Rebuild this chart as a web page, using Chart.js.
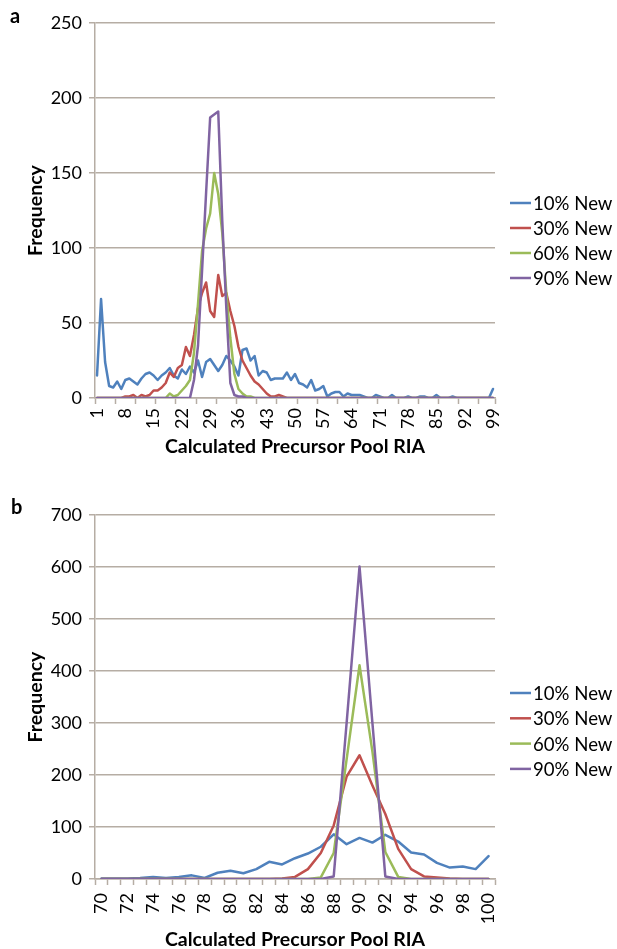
<!DOCTYPE html>
<html>
<head>
<meta charset="utf-8">
<script src="https://cdn.jsdelivr.net/npm/chart.js@4.4.1/dist/chart.umd.min.js"></script>
<style>
html,body{margin:0;padding:0;background:#fff;}
body{width:617px;height:949px;position:relative;overflow:hidden;font-family:Lato,"Open Sans",sans-serif;}
.panel{position:absolute;left:0;width:617px;}
#wrapA{top:0;height:470px;}
#wrapB{top:485px;height:464px;}
canvas{display:block;}
.tag{position:absolute;font-weight:bold;font-size:20px;line-height:20px;color:#000;font-family:Lato,sans-serif;}
</style>
</head>
<body>
<div id="wrapA" class="panel"><canvas id="chartA" width="617" height="470"></canvas></div>
<div id="wrapB" class="panel"><canvas id="chartB" width="617" height="464"></canvas></div>
<div class="tag" style="left:10px;top:5px">a</div>
<div class="tag" style="left:11px;top:496px">b</div>
<script>
// ---------- Panel a data ----------
const categoriesA = ['1','2','3','4','5','6','7','8','9','10','11','12','13','14','15','16','17','18','19','20',
'21','22','23','24','25','26','27','28','29','30','31','32','33','34','35','36','37','38','39','40',
'41','42','43','44','45','46','47','48','49','50','51','52','53','54','55','56','57','58','59','60',
'61','62','63','64','65','66','67','68','69','70','71','72','73','74','75','76','77','78','79','80',
'81','82','83','84','85','86','87','88','89','90','91','92','93','94','95','96','97','98','99'];
const tickLabelsA = ['1','8','15','22','29','36','43','50','57','64','71','78','85','92','99'];
const yTicksA = [0,50,100,150,200,250];

const new10A = [15,66,24,8,7,11,6,12,13,11, 9,13,16,17,15,12,15,17,20,15,
13,19,16,21,17,25,14,24,26,22, 18,22,28,25,21,15,32,33,25,28,
15,18,17,12,13,13,13,17,12,16, 10,9,7,12,5,6,8,1,3,4,
4,1,3,2,2,2,1,0,0,2, 1,0,0,2,0,0,0,1,0,0,
1,1,0,0,2,0,0,0,1,0, 0,0,0,0,0,0,0,0,6];
const new30A = [0,0,0,0,0,0,0,1,1,2, 0,2,1,2,5,5,7,10,17,14,
20,22,34,28,42,60,70,77,58,54, 82,68,70,58,48,34,25,20,15,11,
9,6,3,1,1,2,1,0,0,0, 0,0,0,0,0,0,0,0,0,0,
0,0,0,0,0,0,0,0,0,0, 0,0,0,0,0,0,0,0,0,0,
0,0,0,0,0,0,0,0,0,0, 0,0,0,0,0,0,0,0,0];
const new60A = [0,0,0,0,0,0,0,0,0,0, 0,0,0,0,0,0,0,0,3,1,
2,5,8,12,30,63,98,113,123,150, 136,110,70,40,16,6,3,1,1,0,
0,0,0,0,0,0,0,0,0,0, 0,0,0,0,0,0,0,0,0,0,
0,0,0,0,0,0,0,0,0,0, 0,0,0,0,0,0,0,0,0,0,
0,0,0,0,0,0,0,0,0,0, 0,0,0,0,0,0,0,0,0];
const new90A = [0,0,0,0,0,0,0,0,0,0, 0,0,0,0,0,0,0,0,0,0,
0,0,0,0,12,35,85,137,187,189, 191,118,60,10,2,1,1,0,0,0,
0,0,0,0,0,0,0,0,0,0, 0,0,0,0,0,0,0,0,0,0,
0,0,0,0,0,0,0,0,0,0, 0,0,0,0,0,0,0,0,0,0,
0,0,0,0,0,0,0,0,0,0, 0,0,0,0,0,0,0,0,0];

// ---------- Panel b data ----------
const categoriesB = ['70','71','72','73','74','75','76','77','78','79','80','81','82','83','84','85',
'86','87','88','89','90','91','92','93','94','95','96','97','98','99','100'];
const tickLabelsB = ['70','72','74','76','78','80','82','84','86','88','90','92','94','96','98','100'];
const yTicksB = [0,100,200,300,400,500,600,700];

const new10B = [1,1,1,2,4,2,4,7,2,12,16,11,19,33,28,40,49,62,86,67,79,70,85,72,51,47,31,22,24,19,44];
const new30B = [0,0,0,0,0,0,0,0,0,0,0,0,0,0,1,4,19,50,103,197,238,180,125,58,19,5,3,1,0,0,0];
const new60B = [0,0,0,0,0,0,0,0,0,0,0,0,0,0,0,0,0,3,50,230,411,245,52,4,0,0,0,0,0,0,0];
const new90B = [0,0,0,0,0,0,0,0,0,0,0,0,0,0,0,0,0,0,5,300,601,300,5,0,0,0,0,0,0,0,0];

const seriesNames = ['10% New','30% New','60% New','90% New'];
const seriesColors = ['#4F81BD','#C0504D','#9BBB59','#8064A2'];

const xTitle = 'Calculated Precursor Pool RIA';
const yTitle = 'Frequency';

// ---------- styling ----------
const GRID = '#B6ADA4';
const FONT = 'Lato';
Chart.defaults.font.family = FONT;
Chart.defaults.color = '#000';

const sideLegend = {
  id: 'sideLegend',
  afterDraw(chart, args, opts) {
    const ctx = chart.ctx;
    ctx.save();
    ctx.font = '18.6px ' + FONT;
    ctx.textBaseline = 'middle';
    ctx.textAlign = 'left';
    chart.data.datasets.forEach((ds, i) => {
      const y = opts.y0 + i * opts.dy;
      ctx.strokeStyle = ds.borderColor;
      ctx.lineWidth = 2.5;
      ctx.beginPath();
      ctx.moveTo(opts.x0, y);
      ctx.lineTo(opts.x0 + opts.len, y);
      ctx.stroke();
      ctx.fillStyle = '#000';
      ctx.fillText(ds.label, opts.x0 + opts.len + 2, y + 1);
    });
    ctx.restore();
  }
};

function makeDatasets(vals) {
  return vals.map((v, i) => ({
    label: seriesNames[i],
    data: v,
    borderColor: seriesColors[i],
    backgroundColor: seriesColors[i],
    borderWidth: 2.5,
    pointRadius: 0,
    pointHoverRadius: 0,
    tension: 0,
    fill: false,
    borderJoinStyle: 'round',
    borderCapStyle: 'round',
    order: 4 - i
  }));
}

function makeChart(id, cfg) {
  const tickSet = new Set(cfg.tickLabels);
  return new Chart(document.getElementById(id), {
    type: 'line',
    data: { labels: cfg.categories, datasets: makeDatasets(cfg.series) },
    plugins: [sideLegend],
    options: {
      responsive: false,
      animation: false,
      events: [],
      layout: { padding: { left: 0, right: 122, top: cfg.top, bottom: cfg.bottomPad } },
      plugins: {
        legend: { display: false },
        tooltip: { enabled: false },
        sideLegend: cfg.legend
      },
      scales: {
        x: {
          type: 'category',
          offset: true,
          border: { display: true, color: GRID, width: 1.5 },
          grid: {
            display: true,
            offset: true,
            drawOnChartArea: false,
            drawTicks: true,
            tickLength: 6,
            tickWidth: 1.5,
            tickColor: (ctx) => (ctx.index === undefined || ctx.index % cfg.tickEvery === 0) ? GRID : 'rgba(0,0,0,0)'
          },
          ticks: {
            autoSkip: false,
            maxRotation: 90,
            minRotation: 90,
            padding: cfg.xPad,
            font: { size: 18 },
            color: '#000',
            callback: function (val) {
              const l = this.getLabelForValue(val);
              return tickSet.has(l) ? l : '';
            }
          },
          title: {
            display: true,
            text: xTitle,
            font: { size: 19.5, weight: 'bold', lineHeight: 1 },
            padding: { top: 0, bottom: 0 },
            color: '#000'
          },
          afterFit: (s) => { s.height = cfg.xHeight; }
        },
        y: {
          min: cfg.yTicks[0],
          max: cfg.yTicks[cfg.yTicks.length - 1],
          afterBuildTicks: (s) => { s.ticks = cfg.yTicks.map(v => ({ value: v })); },
          border: { display: true, color: GRID, width: 1.5 },
          grid: { color: GRID, lineWidth: 1.5, drawTicks: true, tickLength: 6 },
          ticks: { padding: 7, font: { size: 18 }, color: '#000' },
          title: {
            display: true,
            text: yTitle,
            font: { size: 19.5, weight: 'bold', lineHeight: 1 },
            padding: { top: 26, bottom: 0 },
            color: '#000'
          },
          afterFit: (s) => { s.width = 95; }
        }
      }
    }
  });
}

makeChart('chartA', {
  categories: categoriesA, tickLabels: tickLabelsA, yTicks: yTicksA,
  series: [new10A, new30A, new60A, new90A],
  top: 23, bottomPad: 14, xHeight: 58, xPad: 4, tickEvery: 5,
  legend: { x0: 510, len: 21, y0: 203, dy: 25 }
});

makeChart('chartB', {
  categories: categoriesB, tickLabels: tickLabelsB, yTicks: yTicksB,
  series: [new10B, new30B, new60B, new90B],
  top: 30, bottomPad: 0, xHeight: 70, xPad: 8, tickEvery: 1,
  legend: { x0: 510, len: 21, y0: 208, dy: 25.3 }
});
</script>
</body>
</html>
